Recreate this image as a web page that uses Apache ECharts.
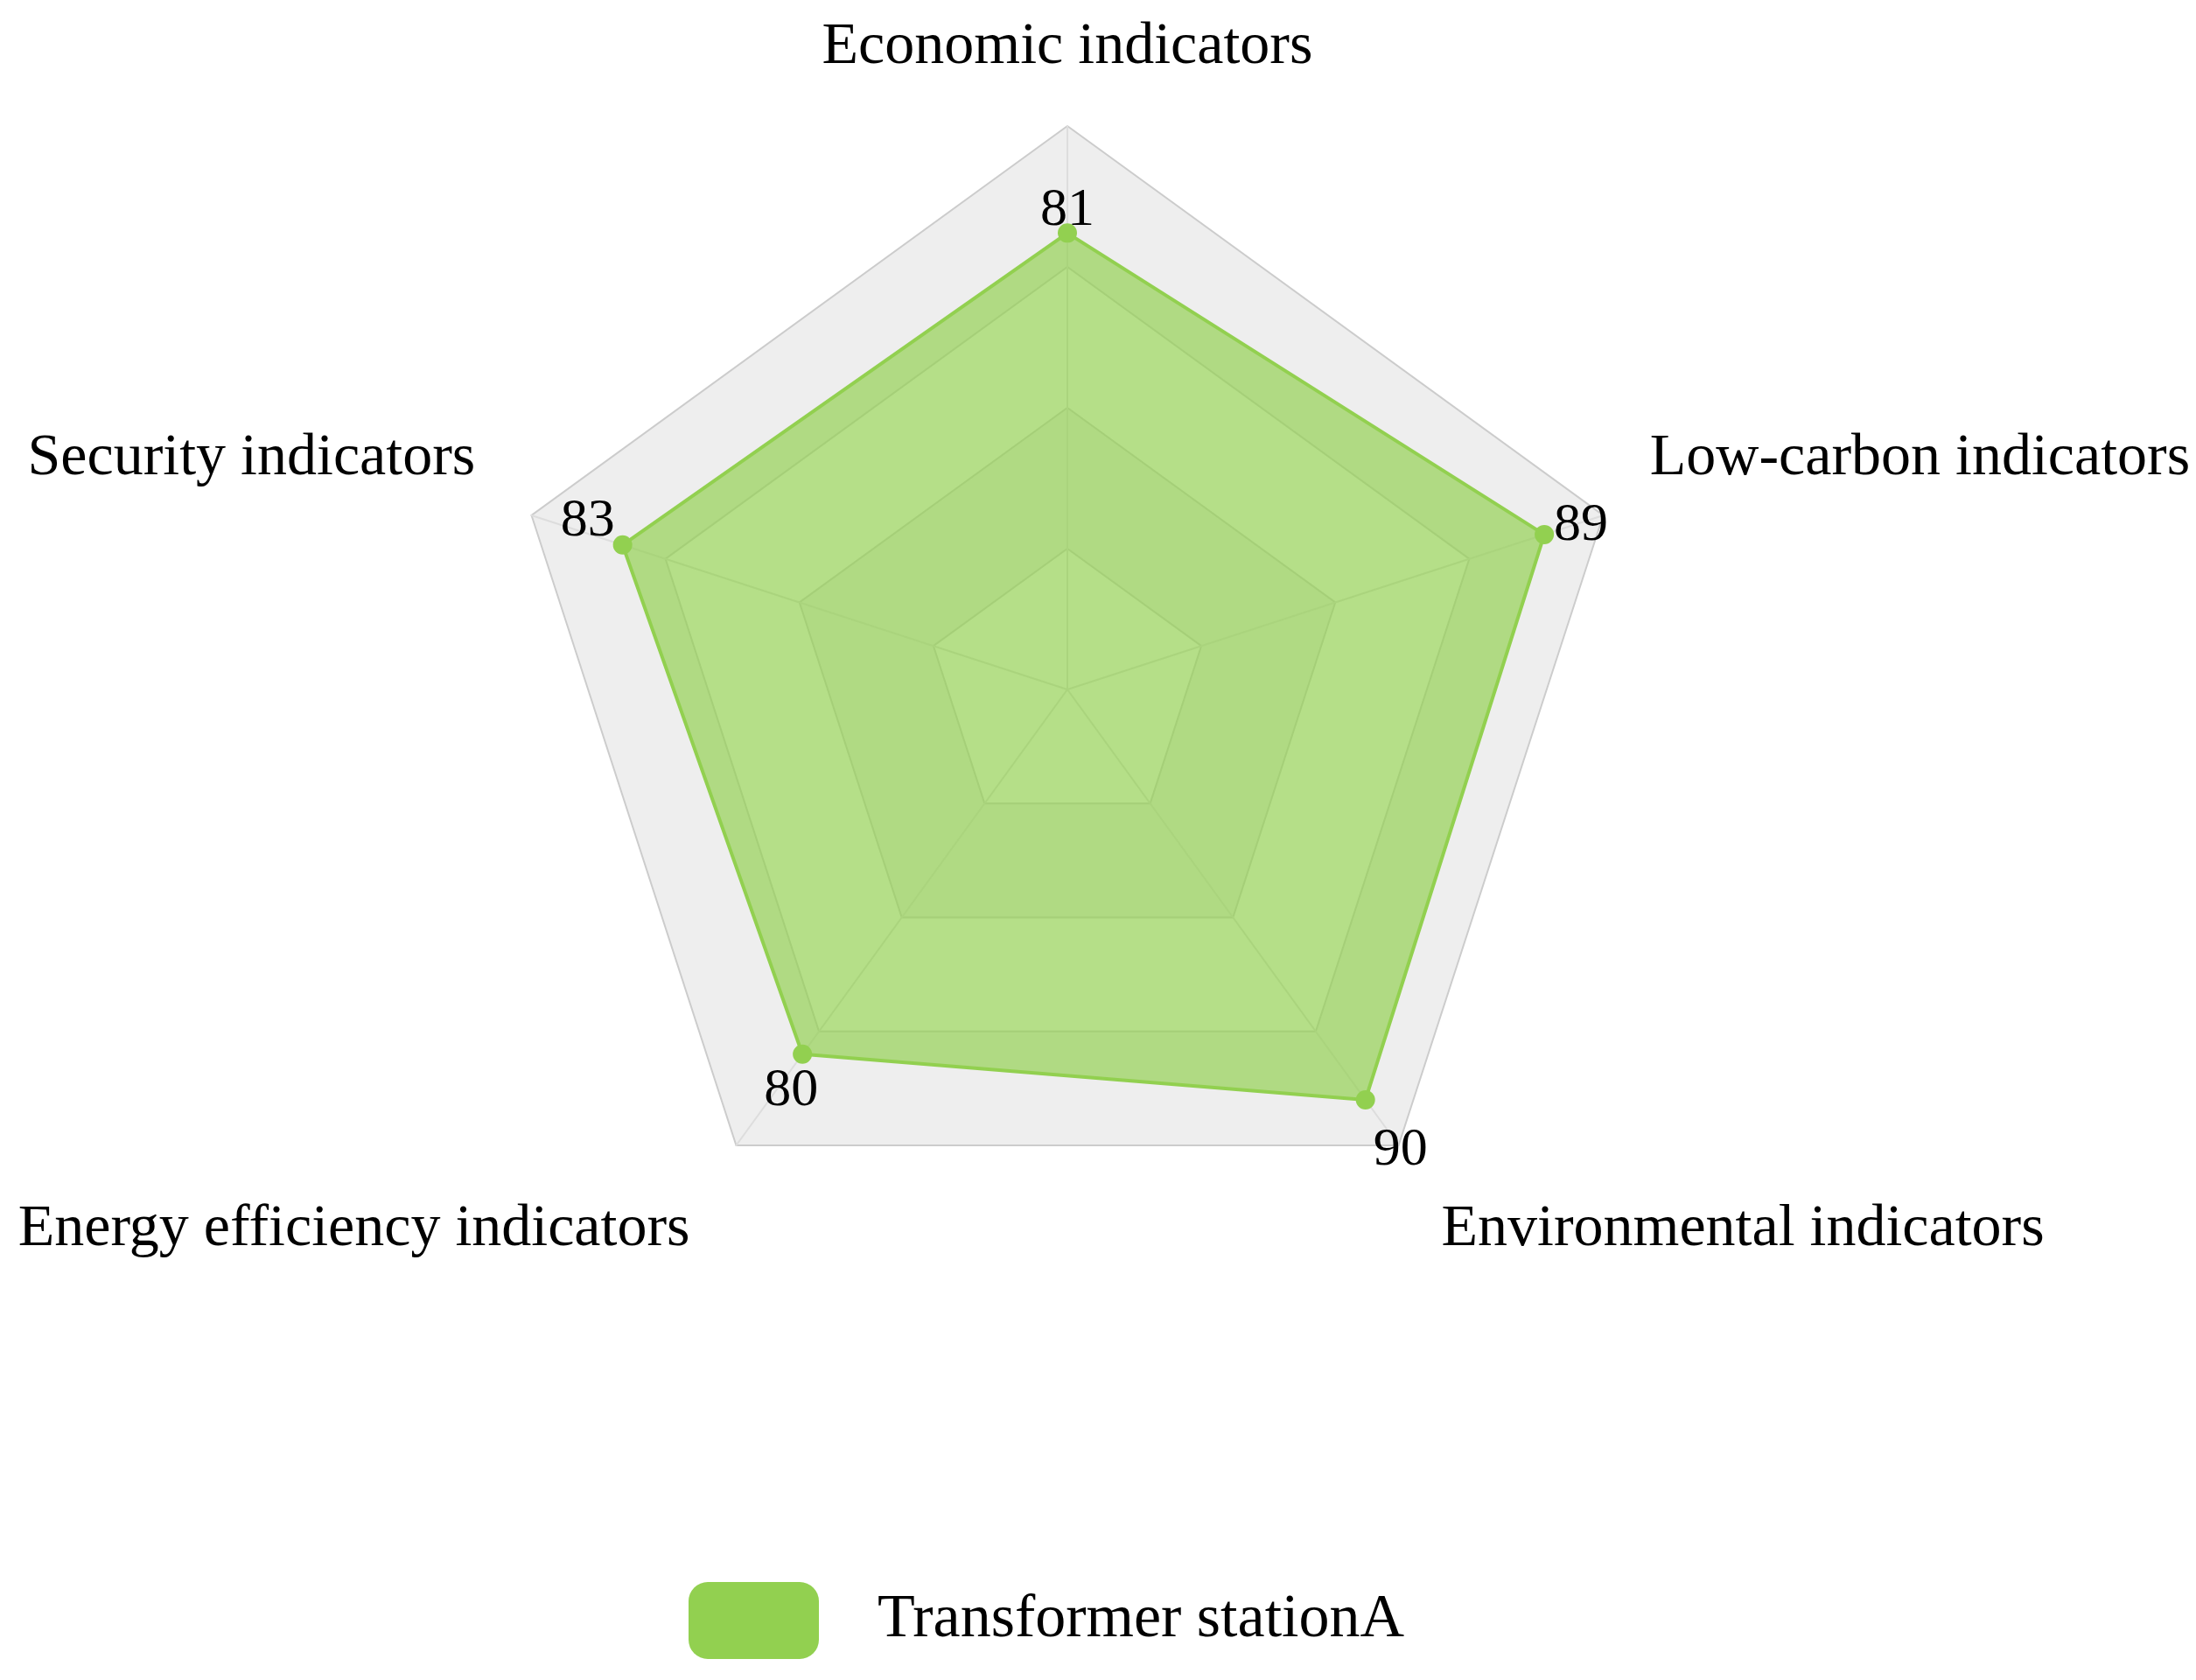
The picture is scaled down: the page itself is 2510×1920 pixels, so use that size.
<!DOCTYPE html>
<html>
<head>
<meta charset="utf-8">
<script src="https://cdn.jsdelivr.net/npm/echarts@6/dist/echarts.min.js"></script>
<style>html,body{margin:0;padding:0;background:#fff}#c{width:2510px;height:1920px}</style>
</head>
<body>
<div id="c"></div>
<script>
// ---- data ----
const indicators = ['Economic indicators', 'Security indicators', 'Energy efficiency indicators', 'Environmental indicators', 'Low-carbon indicators'];
const maxValue = 100;
const values = [81, 83, 80, 90, 89];
const seriesName = 'Transformer stationA';

// ---- styles ----
const FONT = 'Liberation Serif';
const GREEN = '#92D050';
// value-label offsets, in indicator order
const labelOffsetByIndex = [[0, -26], [-40, -27], [-13, 42], [40, 58], [42, -10]];
const namePadding = [[0, 0, 0, 0], [0, 11, 96, 0], [102, 20, 0, 0], [102, 0, 0, 16], [0, 0, 96, 0]];

const chart = echarts.init(document.getElementById('c'), null, {renderer: 'canvas'});

const labelItems = values.map((v, i) => ({
  value: values,
  name: 'lbl' + i,
  symbol: 'circle',
  symbolSize: 1,
  itemStyle: {color: 'rgba(0,0,0,0)'},
  lineStyle: {width: 0, opacity: 0},
  areaStyle: {opacity: 0},
  label: {
    show: true,
    position: 'inside',
    offset: labelOffsetByIndex[i],
    color: '#000',
    fontFamily: FONT,
    fontSize: 62,
    formatter: p => (p.dimensionIndex === i ? String(values[i]) : '')
  }
}));

const rich = {};
namePadding.forEach((p, i) => {
  rich['n' + i] = {padding: p, color: '#000', fontFamily: FONT, fontSize: 68};
});

chart.setOption({
  animation: false,
  backgroundColor: '#fff',
  color: [GREEN],
  legend: {
    data: [seriesName],
    left: 787,
    top: 1808,
    padding: 0,
    itemWidth: 149,
    itemHeight: 88,
    icon: 'roundRect',
    textStyle: {color: '#000', fontFamily: FONT, fontSize: 70, padding: [0, 0, 0, 62]}
  },
  radar: {
    center: [1220, 788],
    radius: 644,
    startAngle: 90,
    shape: 'polygon',
    splitNumber: 4,
    nameGap: 56,
    axisName: {
      color: '#000', fontFamily: FONT, fontSize: 68,
      formatter: name => '{n' + indicators.indexOf(name) + '|' + name + '}',
      rich: rich
    },
    indicator: indicators.map(n => ({name: n, max: maxValue, min: 0})),
    axisLine: {lineStyle: {color: '#dddddd', width: 2}},
    splitLine: {lineStyle: {color: '#cccccc', width: 2}},
    splitArea: {show: true, areaStyle: {color: ['rgba(250,250,250,0.3)', 'rgba(200,200,200,0.3)']}}
  },
  series: [
    {
      type: 'radar',
      name: seriesName,
      symbol: 'circle',
      symbolSize: 22,
      itemStyle: {color: GREEN},
      lineStyle: {color: GREEN, width: 4},
      areaStyle: {color: GREEN, opacity: 0.68},
      label: {show: false},
      data: [{value: values, name: seriesName}]
    },
    {
      type: 'radar',
      name: 'labels',
      silent: true,
      z: 5,
      data: labelItems
    }
  ]
});
</script>
</body>
</html>
